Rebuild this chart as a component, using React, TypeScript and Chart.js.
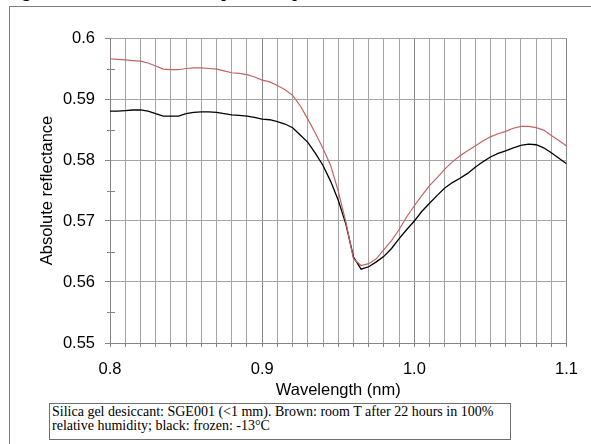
import { useEffect, useRef } from "react";
import { Chart, registerables } from "chart.js";

Chart.register(...registerables);

const wavelengths = [
  0.8, 0.805, 0.81, 0.815, 0.82, 0.825, 0.83, 0.835, 0.84, 0.845,
  0.85, 0.855, 0.86, 0.865, 0.87, 0.875, 0.88, 0.885, 0.89, 0.895,
  0.9, 0.905, 0.91, 0.915, 0.92, 0.925, 0.93, 0.935, 0.94, 0.945,
  0.95, 0.955, 0.96, 0.965, 0.97, 0.975, 0.98, 0.985, 0.99, 0.995,
  1.0, 1.005, 1.01, 1.015, 1.02, 1.025, 1.03, 1.035, 1.04, 1.045,
  1.05, 1.055, 1.06, 1.065, 1.07, 1.075, 1.08, 1.085, 1.09, 1.095, 1.1,
];

const brownRoomT = [
  0.5966, 0.5965, 0.5964, 0.5963, 0.5962, 0.5959, 0.5954, 0.5949, 0.5948, 0.5948,
  0.595, 0.5951, 0.5951, 0.595, 0.5949, 0.5946, 0.5943, 0.5942, 0.594, 0.5936,
  0.5931, 0.5928, 0.5922, 0.5915, 0.5906, 0.5889, 0.5867, 0.5844, 0.5819, 0.5791,
  0.5749, 0.5698, 0.5638, 0.5627, 0.563, 0.5638, 0.5653, 0.5668, 0.5686, 0.5707,
  0.5725, 0.5742, 0.5758, 0.5771, 0.5785, 0.5797, 0.5807, 0.5815, 0.5823, 0.5831,
  0.5838, 0.5843, 0.5847, 0.5852, 0.5855, 0.5855, 0.5853, 0.5849, 0.584, 0.5832, 0.5823,
];

const blackFrozen = [
  0.588, 0.588, 0.5881, 0.5882, 0.5882, 0.588, 0.5876, 0.5872, 0.5872, 0.5872,
  0.5876, 0.5878, 0.5879, 0.5879, 0.5878, 0.5876, 0.5874, 0.5873, 0.5872, 0.587,
  0.5867, 0.5866, 0.5863, 0.5859, 0.5853, 0.5841, 0.5829, 0.5811, 0.5791, 0.5765,
  0.5734, 0.5695, 0.5641, 0.5621, 0.5625, 0.5633, 0.5642, 0.5655, 0.5671, 0.5686,
  0.57, 0.5716, 0.5729, 0.5742, 0.5754, 0.5763, 0.577, 0.5778, 0.5788, 0.5797,
  0.5805, 0.5811, 0.5815, 0.582, 0.5824, 0.5826, 0.5825, 0.582, 0.5812, 0.5803, 0.5794,
];

const xTickLabels = ["0.8", "0.9", "1.0", "1.1"];
const yTickLabels = ["0.55", "0.56", "0.57", "0.58", "0.59", "0.6"];

const GRID = "#a4a4a4";
const GRID_DARK = "#858585";
const FONT = "'Liberation Sans', Arial, sans-serif";

function labelFor(list: string[], v: number): string {
  const hit = list.find((s) => Math.abs(Number(s) - v) < 1e-7);
  return hit ?? "";
}

const minorTicksPlugin = {
  id: "minorTicks",
  afterDraw(chart: any) {
    const y = chart.scales.y;
    const ctx = chart.ctx;
    const left = chart.chartArea.left;
    ctx.save();
    ctx.strokeStyle = GRID_DARK;
    ctx.lineWidth = 1;
    for (let i = 0; i < yTickLabels.length - 1; i++) {
      const mid = (Number(yTickLabels[i]) + Number(yTickLabels[i + 1])) / 2;
      const py = Math.round(y.getPixelForValue(mid)) + 0.5;
      ctx.beginPath();
      ctx.moveTo(left - 3, py);
      ctx.lineTo(left + 5, py);
      ctx.stroke();
    }
    ctx.restore();
  },
};

export default function App() {
  const ref = useRef<HTMLCanvasElement | null>(null);

  useEffect(() => {
    if (!ref.current) return;
    const chart = new Chart(ref.current, {
      type: "line",
      data: {
        datasets: [
          {
            label: "Brown: room T after 22 hours in 100% relative humidity",
            data: wavelengths.map((w, i) => ({ x: w, y: brownRoomT[i] })),
            borderColor: "#c06464",
            borderWidth: 1.2,
            pointRadius: 0,
            tension: 0,
          },
          {
            label: "Black: frozen -13°C",
            data: wavelengths.map((w, i) => ({ x: w, y: blackFrozen[i] })),
            borderColor: "#000000",
            borderWidth: 1.3,
            pointRadius: 0,
            tension: 0,
          },
        ],
      },
      options: {
        animation: false,
        responsive: false,
        layout: { padding: { top: 38, right: 20, left: 0, bottom: 0 } },
        plugins: { legend: { display: false }, tooltip: { enabled: false } },
        scales: {
          x: {
            type: "linear",
            min: 0.8,
            max: 1.1,
            afterFit: (s: any) => {
              s.height = 101;
            },
            ticks: {
              stepSize: 0.01,
              autoSkip: false,
              maxRotation: 0,
              minRotation: 0,
              padding: 13,
              color: "#000",
              font: { family: FONT, size: 16.5 },
              callback: (v: any) => labelFor(xTickLabels, Number(v)),
            },
            grid: {
              color: (c: any) =>
                labelFor(xTickLabels, c.tick ? c.tick.value : -1) ? GRID_DARK : GRID,
              tickColor: GRID_DARK,
              tickLength: 4,
              lineWidth: 1,
            },
            border: { display: true, color: GRID_DARK },
            title: {
              display: true,
              text: "Wavelength (nm)",
              color: "#000",
              font: { family: FONT, size: 16.5 },
              padding: { top: 0, bottom: 44 },
            },
          },
          y: {
            type: "linear",
            min: 0.55,
            max: 0.6,
            afterFit: (s: any) => {
              s.width = 110;
            },
            ticks: {
              stepSize: 0.01,
              padding: 10,
              color: "#000",
              font: { family: FONT, size: 16.5 },
              callback: (v: any) => labelFor(yTickLabels, Number(v)),
            },
            grid: {
              color: GRID,
              tickColor: GRID_DARK,
              tickLength: 5,
              lineWidth: 1,
            },
            border: { display: true, color: GRID_DARK },
            title: {
              display: true,
              text: "Absolute reflectance",
              color: "#000",
              font: { family: FONT, size: 16.5 },
              padding: { top: 38, bottom: 0 },
            },
          },
        },
      },
      plugins: [minorTicksPlugin],
    });
    return () => chart.destroy();
  }, []);

  return (
    <div
      style={{
        position: "fixed",
        left: 0,
        top: 0,
        width: 591,
        height: 444,
        overflow: "hidden",
        background: "#fff",
      }}
    >
      <div
        style={{
          position: "absolute",
          left: 8,
          top: -17,
          fontFamily: "'Liberation Serif', serif",
          fontWeight: "bold",
          fontSize: 16,
          lineHeight: "18px",
          whiteSpace: "nowrap",
          color: "#000",
        }}
      >
        Figure 4. Absolute reflectance spectra of specimen SGE001 at 22°C and -13°C
      </div>
      <div
        style={{
          position: "absolute",
          left: 9,
          top: 6,
          width: 582,
          height: 438,
          borderTop: "1px solid #808080",
          borderLeft: "1px solid #808080",
          boxSizing: "border-box",
        }}
      />
      <canvas
        ref={ref}
        width={591}
        height={444}
        style={{ position: "absolute", left: 0, top: 0, width: 591, height: 444 }}
      />
      <div
        style={{
          position: "absolute",
          left: 49,
          top: 403,
          width: 462,
          height: 37,
          border: "1px solid #707070",
          boxSizing: "border-box",
          padding: "1px 2px",
          fontFamily: "'Liberation Serif', 'Times New Roman', serif",
          fontSize: 14,
          lineHeight: "14px",
          color: "#000",
          background: "#fff",
        }}
      >
        Silica gel desiccant: SGE001 (&lt;1 mm). Brown: room T after 22 hours in 100% relative
        humidity; black: frozen: -13°C
      </div>
    </div>
  );
}
